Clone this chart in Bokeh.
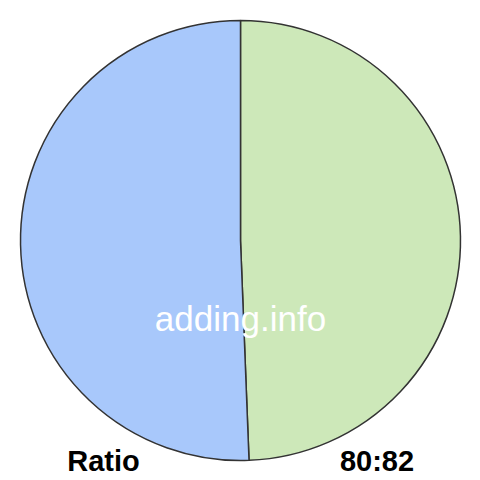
import math
from bokeh.plotting import figure
from bokeh.models import ColumnDataSource
from bokeh.core.properties import value
from bokeh.embed import file_html
from bokeh.resources import INLINE

labels = ["80", "82"]
values = [80, 82]
colors = ["#cde8b9", "#a8c8fb"]
watermark = "adding.info"
left_label = "Ratio"
right_label = "80:82"

W = H = 480
p = figure(width=W, height=H, x_range=(0, W), y_range=(0, H),
           output_backend="svg", toolbar_location=None, min_border=0)
p.axis.visible = False
p.grid.visible = False
p.outline_line_color = None
p.background_fill_color = "white"
p.border_fill_color = "white"

total = sum(values)
starts, ends = [], []
cur = math.pi / 2
for v in values:
    sweep = 2 * math.pi * v / total
    starts.append(cur - sweep)
    ends.append(cur)
    cur -= sweep

cx, cy, r = 240, 240, 220
src = ColumnDataSource(dict(start=starts, end=ends, color=colors, label=labels))
p.wedge(x=cx, y=cy, radius=r, start_angle="start", end_angle="end",
        fill_color="color", line_color="#333333", line_width=1.5, source=src)

p.text(x=[cx], y=[162], text=[watermark], text_color="white",
       text_font=value("Liberation Sans"), text_font_size="35px",
       text_align="center", text_baseline="alphabetic")
p.text(x=[103], y=[20], text=[left_label], text_color="black",
       text_font=value("Liberation Sans"), text_font_size="29px", text_font_style="bold",
       text_align="center", text_baseline="alphabetic")
p.text(x=[376.5], y=[20], text=[right_label], text_color="black",
       text_font=value("Liberation Sans"), text_font_size="29px", text_font_style="bold",
       text_align="center", text_baseline="alphabetic")

open("out.html", "w").write(file_html(p, INLINE))
